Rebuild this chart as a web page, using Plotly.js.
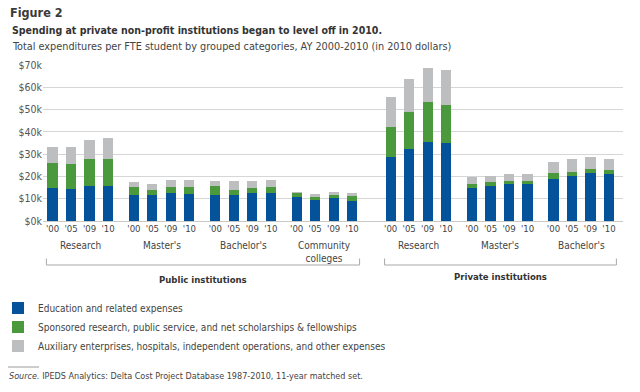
<!DOCTYPE html>
<html>
<head>
<meta charset="utf-8">
<script src="https://cdn.plot.ly/plotly-3.0.1.min.js"></script>
<style>
  html, body { margin: 0; padding: 0; background: #ffffff; }
  #chart { width: 640px; height: 392px; }
</style>
</head>
<body>
<div id="chart"></div>
<script>
// ---------- DATA (thousands of 2010 dollars per FTE student) ----------
const years = ["'00", "'05", "'09", "'10"];
const groupNames = ["Research", "Master's", "Bachelor's", "Community<br>colleges", "Research", "Master's", "Bachelor's"];
const groupSectors = ["Public", "Public", "Public", "Public", "Private", "Private", "Private"];
const sectorLabels = ["Public institutions", "Private institutions"];
const seriesNames = [
  "Education and related expenses",
  "Sponsored research, public service, and net scholarships & fellowships",
  "Auxiliary enterprises, hospitals, independent operations, and other expenses"
];
const education = [
  14.7, 14.4, 15.8, 15.8,
  11.6, 11.6, 12.6, 12.2,
  11.7, 11.7, 12.7, 12.7,
  10.7, 9.5, 10.2, 9.2,
  28.6, 32.2, 35.6, 35.0,
  14.9, 15.5, 16.8, 16.8,
  18.8, 20.3, 21.6, 20.9
];
const sponsored = [
  11.4, 11.3, 12.0, 12.0,
  3.6, 2.4, 2.6, 3.0,
  3.8, 2.4, 2.2, 2.6,
  1.8, 1.3, 1.5, 2.2,
  13.5, 16.9, 17.6, 17.0,
  1.8, 1.8, 1.2, 1.2,
  2.8, 1.9, 1.8, 2.0
];
const auxiliary = [
  7.1, 7.5, 8.5, 9.3,
  2.4, 2.4, 3.1, 3.1,
  2.5, 3.9, 3.1, 3.2,
  0.6, 1.2, 1.4, 1.3,
  13.6, 14.6, 15.4, 15.9,
  3.0, 3.0, 3.3, 3.0,
  5.0, 5.4, 5.3, 4.7
];
const yTickValues = [0, 10, 20, 30, 40, 50, 60, 70];
const yTickLabels = ["$0k", "$10k", "$20k", "$30k", "$40k", "$50k", "$60k", "$70k"];

// ---------- LAYOUT HELPERS ----------
const FONT = "'DejaVu Sans Condensed', 'DejaVu Sans', sans-serif";
const COLORS = ["#04539a", "#4a9a3d", "#bdbec0"];
const GROUP_STEP = 4.4, SECTOR_GAP = 0.68;
const W = 640, H = 392;
const M = { l: 43, r: 17, t: 65, b: 171, autoexpand: false };
const PLOT_BOTTOM = H - M.b, PLOT_H = H - M.t - M.b, PLOT_W = W - M.l - M.r;
const py = p => (PLOT_BOTTOM - p) / PLOT_H;   // pixel y -> paper y
const px = p => (p - M.l) / PLOT_W;           // pixel x -> paper x

const groupStart = groupNames.map((g, gi) => gi * GROUP_STEP + (groupSectors[gi] === "Private" ? SECTOR_GAP : 0));
const xPos = [], xText = [];
groupNames.forEach((g, gi) => years.forEach((y, yi) => { xPos.push(groupStart[gi] + yi); xText.push(y); }));

const traces = [education, sponsored, auxiliary].map((vals, i) => ({
  type: "bar",
  x: xPos,
  y: vals,
  name: seriesNames[i],
  width: 0.55,
  marker: { color: COLORS[i], line: { width: 0 } },
  hovertemplate: "%{y:.1f}k<extra>" + seriesNames[i] + "</extra>"
}));

const annotations = [];
// group labels
groupNames.forEach((g, gi) => {
  annotations.push({
    text: g, xref: "x", yref: "paper", x: groupStart[gi] + (years.length - 1) / 2, y: py(238),
    xanchor: "center", yanchor: "top", showarrow: false,
    font: { family: FONT, size: 10, color: "#444" }
  });
});
// sector brackets + labels
const shapes = [];
const sectorLabelY = [279, 276];
["Public", "Private"].forEach((s, si) => {
  const idx = groupSectors.map((v, i) => v === s ? i : -1).filter(i => i >= 0);
  const x0 = groupStart[idx[0]] - 0.33;
  const x1 = groupStart[idx[idx.length - 1]] + years.length - 1 + 0.4;
  const ln = { color: "#a8a8a8", width: 1 };
  shapes.push({ type: "line", xref: "x", yref: "paper", x0: x0, x1: x1, y0: py(265), y1: py(265), line: ln });
  shapes.push({ type: "line", xref: "x", yref: "paper", x0: x0, x1: x0, y0: py(258.5), y1: py(265), line: ln });
  shapes.push({ type: "line", xref: "x", yref: "paper", x0: x1, x1: x1, y0: py(258.5), y1: py(265), line: ln });
  annotations.push({
    text: "<b>" + sectorLabels[si] + "</b>", xref: "x", yref: "paper", x: (x0 + x1) / 2, y: py(sectorLabelY[si]),
    xanchor: "center", yanchor: "middle", showarrow: false,
    font: { family: FONT, size: 9.5, color: "#333" }
  });
});
// titles
annotations.push({
  text: "<b>Spending at private non-profit institutions began to level off in 2010.</b>",
  xref: "paper", yref: "paper", x: px(10), y: py(30), xanchor: "left", yanchor: "middle", showarrow: false,
  font: { family: FONT, size: 10.5, color: "#333" }
});
annotations.push({
  text: "Total expenditures per FTE student by grouped categories, AY 2000-2010 (in 2010 dollars)",
  xref: "paper", yref: "paper", x: px(10), y: py(46), xanchor: "left", yanchor: "middle", showarrow: false,
  font: { family: FONT, size: 10.8, color: "#444" }
});
// source
annotations.push({
  text: "<i>Source.</i> IPEDS Analytics: Delta Cost Project Database 1987-2010, 11-year matched set.",
  xref: "paper", yref: "paper", x: px(7), y: py(376), xanchor: "left", yanchor: "middle", showarrow: false,
  font: { family: FONT, size: 9, color: "#444" }
});
shapes.push({ type: "line", xref: "paper", yref: "paper", x0: px(8), x1: px(39), y0: py(367), y1: py(367),
  line: { color: "#9a9a9a", width: 1 } });

const layout = {
  width: W, height: H,
  margin: M,
  paper_bgcolor: "#ffffff", plot_bgcolor: "#ffffff",
  font: { family: FONT, color: "#444" },
  barmode: "stack",
  bargap: 0,
  title: {
    text: "<b>Figure 2</b>", x: 10 / W, xref: "container", xanchor: "left",
    y: 1 - 13 / H, yref: "container", yanchor: "middle",
    font: { family: FONT, size: 12.5, color: "#3a3a3a" }
  },
  xaxis: {
    range: [(M.l - 52.5) / 18.5, (W - M.r - 52.5) / 18.5],
    tickmode: "array", tickvals: xPos, ticktext: xText,
    showgrid: false, zeroline: false, showline: false, ticks: "",
    tickfont: { family: FONT, size: 9.5, color: "#444" },
    automargin: false,
    fixedrange: true
  },
  yaxis: {
    range: [0, 70],
    tickmode: "array", tickvals: yTickValues, ticktext: yTickLabels,
    showgrid: true, gridcolor: "#d6d6d6", gridwidth: 1,
    zeroline: true, zerolinecolor: "#c8c8c8", zerolinewidth: 1,
    showline: false, ticks: "",
    tickfont: { family: FONT, size: 10.5, color: "#555" },
    automargin: false,
    fixedrange: true
  },
  showlegend: true,
  legend: {
    orientation: "v", traceorder: "normal",
    x: px(-2), xanchor: "left", y: py(293.5), yanchor: "top",
    font: { family: FONT, size: 10, color: "#444" },
    bgcolor: "rgba(0,0,0,0)", borderwidth: 0
  },
  annotations: annotations,
  shapes: shapes
};

Plotly.newPlot("chart", traces, layout, { displayModeBar: false, staticPlot: true });
</script>
</body>
</html>
